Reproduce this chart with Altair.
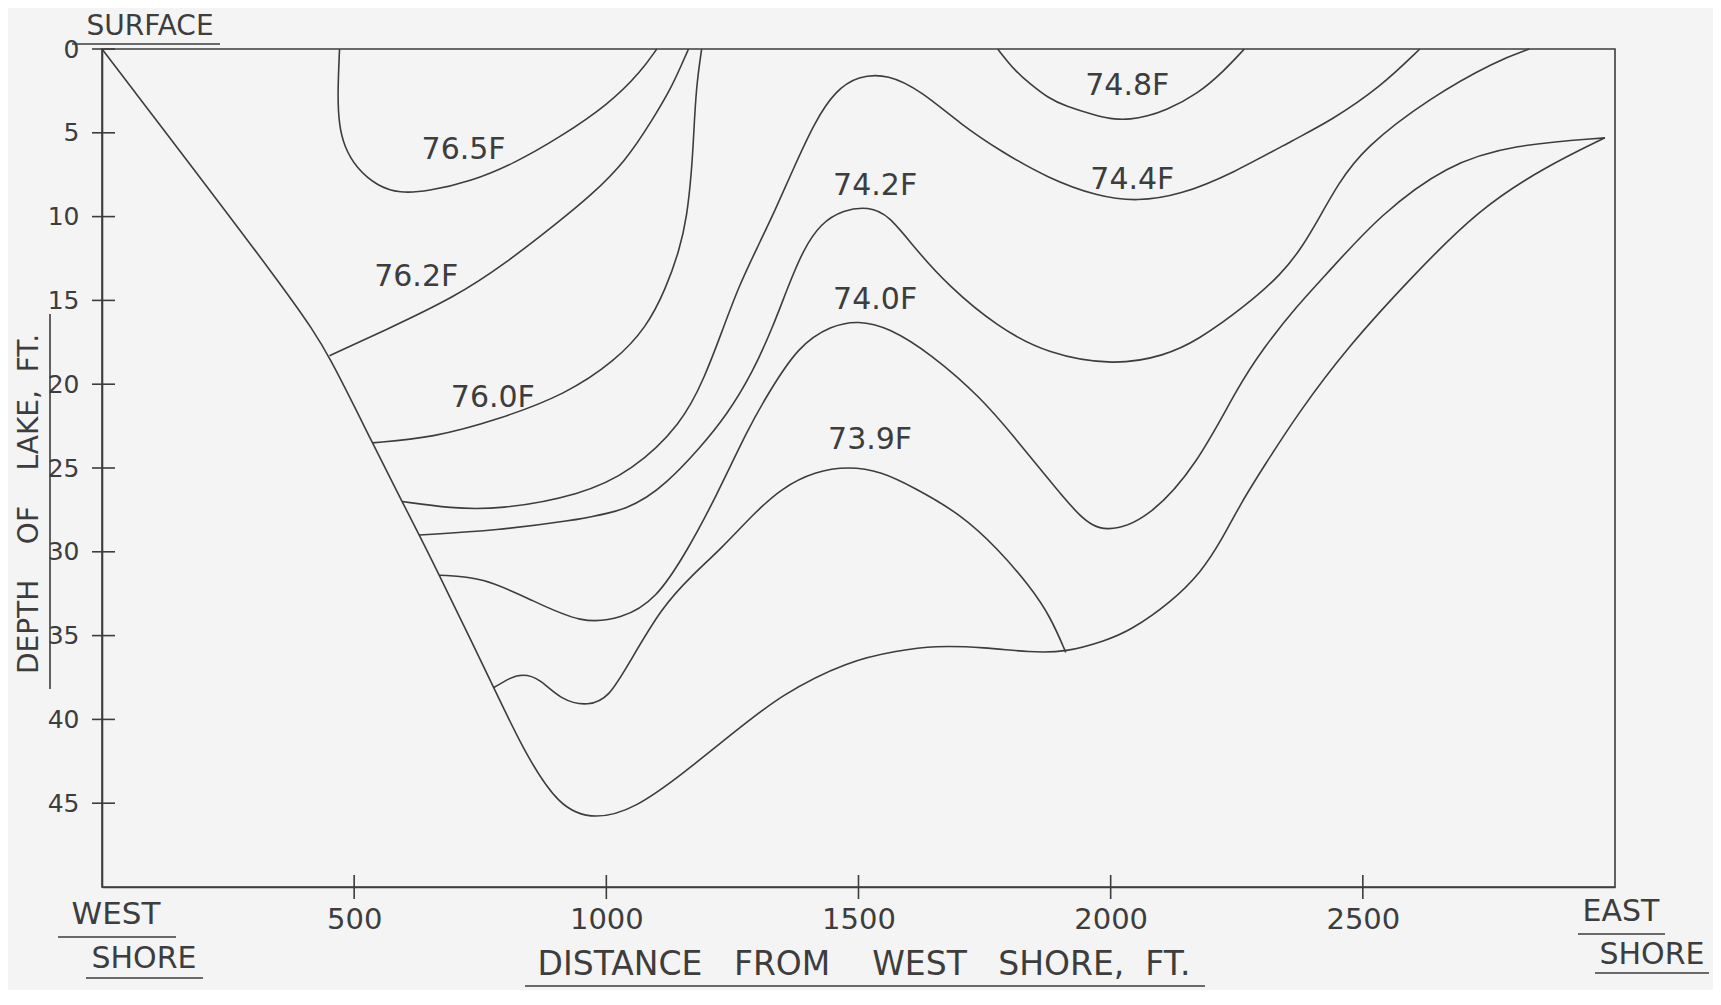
import altair as alt
import pandas as pd

INK = "#3d3d3d"
FONT = "DejaVu Sans"
NB = "\u00a0"

# ---- axis ticks ----
x_ticks = [500, 1000, 1500, 2000, 2500]
y_ticks = [0, 5, 10, 15, 20, 25, 30, 35, 40, 45]

# ---- lake bottom profile (distance ft, depth ft) ----
bottom_x = [0, 391, 451, 536, 595, 629, 669, 777, 833, 906, 979, 1058, 1149, 1248, 1347, 1480,
            1578, 1650, 1750, 1840, 1911, 1990, 2039, 2120, 2180, 2220, 2260, 2304, 2370, 2469,
            2600, 2732, 2864, 2980]
bottom_y = [0, 15.4, 18.3, 23.5, 27.0, 29.0, 31.4, 38.1, 41.7, 45.3, 46.0, 45.3, 43.3, 40.9, 38.5, 36.5,
            35.9, 35.6, 35.7, 36.0, 36.0, 35.3, 34.7, 33.0, 31.2, 29.3, 27.0, 24.9, 21.8, 17.8,
            13.5, 9.5, 7.0, 5.3]

# ---- isotherms ----
t765_x = [471, 467, 470, 480, 504, 547, 590, 645, 732, 819, 906, 1005, 1070, 1100]
t765_y = [0, 2.8, 4.5, 5.8, 7.1, 8.2, 8.6, 8.5, 7.9, 6.8, 5.3, 3.3, 1.3, 0]

t762_x = [451, 560, 700, 800, 906, 971, 1038, 1090, 1129, 1149, 1163]
t762_y = [18.3, 16.8, 14.8, 12.8, 10.3, 8.7, 6.7, 4.3, 2.3, 0.95, 0]

t760_x = [536, 655, 787, 920, 1018, 1080, 1118, 1145, 1160, 1169, 1173, 1178, 1189]
t760_y = [23.5, 23.2, 22.1, 20.6, 18.6, 16.6, 14.3, 12.0, 10.0, 7.3, 5.3, 2.3, 0]

t748_x = [1776, 1810, 1841, 1875, 1909, 1974, 2008, 2039, 2073, 2107, 2172, 2225, 2265]
t748_y = [0, 1.3, 2.1, 2.9, 3.4, 4.0, 4.2, 4.2, 4.0, 3.7, 2.7, 1.3, 0]

t744_x = [595, 690, 787, 951, 1050, 1149, 1195, 1230, 1262, 1300, 1335, 1370, 1414, 1454, 1499, 1559,
          1624, 1703, 1782, 1875, 1974, 2053, 2138, 2237, 2370, 2435, 2534, 2613]
t744_y = [27.0, 27.4, 27.5, 26.6, 25.2, 22.4, 19.6, 16.8, 14.2, 11.8, 9.6, 7.2, 4.3, 2.5, 1.6, 1.5,
          2.5, 4.5, 6.1, 7.7, 8.8, 9.1, 8.7, 7.5, 5.3, 4.3, 2.3, 0]

t742_x = [629, 787, 920, 1050, 1120, 1183, 1240, 1290, 1330, 1360, 1390, 1425, 1470, 1520, 1560, 1612,
          1677, 1776, 1875, 2008, 2107, 2172, 2269, 2340, 2380, 2415, 2450, 2502, 2633, 2765, 2830]
t742_y = [29.0, 28.7, 28.2, 27.5, 25.9, 23.9, 21.8, 19.3, 16.6, 14.2, 12.0, 10.4, 9.6, 9.4, 9.9, 11.9,
          14.1, 16.6, 18.2, 18.9, 18.3, 17.4, 15.3, 13.4, 11.8, 10.0, 8.1, 5.9, 2.9, 0.7, 0]

t740_x = [669, 754, 853, 951, 1030, 1098, 1163, 1216, 1282, 1320, 1381, 1446, 1499, 1559, 1644, 1743,
          1810, 1875, 1940, 1988, 2073, 2172, 2251, 2304, 2370, 2435, 2534, 2666, 2799, 2980]
t740_y = [31.4, 31.5, 32.9, 34.3, 34.0, 32.9, 29.8, 26.8, 22.6, 20.6, 17.7, 16.5, 16.2, 16.6, 18.2, 20.8,
          23.2, 25.6, 28.0, 28.9, 28.1, 24.8, 20.2, 17.8, 15.3, 13.2, 9.9, 6.9, 5.7, 5.3]

t739_x = [777, 810, 833, 866, 912, 965, 1005, 1044, 1110, 1170, 1228, 1290, 1347, 1414, 1480, 1545,
          1612, 1700, 1776, 1841, 1881, 1911]
t739_y = [38.1, 37.5, 37.3, 37.5, 38.9, 39.2, 38.7, 36.7, 33.3, 31.4, 29.8, 27.8, 26.2, 25.2, 24.9, 25.2,
          26.2, 27.7, 29.8, 32.1, 33.9, 36.0]

# ---- isotherm labels ----
label_text = ["76.5F", "76.2F", "76.0F", "74.2F", "74.0F", "73.9F", "74.8F", "74.4F"]
label_x = [717, 623, 775, 1533, 1533, 1523, 2033, 2043]
label_y = [6.0, 13.6, 20.8, 8.2, 15.0, 23.3, 2.2, 7.8]

curves = [
    ("bottom", bottom_x, bottom_y),
    ("76.5F", t765_x, t765_y),
    ("76.2F", t762_x, t762_y),
    ("76.0F", t760_x, t760_y),
    ("74.8F", t748_x, t748_y),
    ("74.4F", t744_x, t744_y),
    ("74.2F", t742_x, t742_y),
    ("74.0F", t740_x, t740_y),
    ("73.9F", t739_x, t739_y),
]
rows = []
for name, xs_, ys_ in curves:
    for i, (a, b) in enumerate(zip(xs_, ys_)):
        rows.append({"curve": name, "seq": i, "dist": a, "depth": b})
df = pd.DataFrame(rows)
lab_df = pd.DataFrame({"dist": label_x, "depth": label_y, "text": label_text})

W, H = 1513, 838
xs = alt.Scale(domain=[0, 3000], nice=False, zero=False)
ys = alt.Scale(domain=[0, 50], reverse=True, nice=False, zero=False)

x_axis = alt.Axis(values=x_ticks, format="d", ticks=False, grid=False, title=None,
                  labelPadding=18, labelFont=FONT, labelFontSize=29, labelColor=INK,
                  domainColor=INK, domainWidth=1.6)
y_axis = alt.Axis(values=y_ticks, format="d", ticks=False, grid=False, title=None,
                  labelPadding=23, labelFont=FONT, labelFontSize=25, labelColor=INK,
                  domainColor=INK, domainWidth=1.6)

X = alt.X("dist:Q", scale=xs, axis=x_axis)
Y = alt.Y("depth:Q", scale=ys, axis=y_axis)

lines = alt.Chart(df).mark_line(
    interpolate="basis", color=INK, strokeWidth=1.6
).encode(x=X, y=Y, detail="curve:N", order="seq:Q")

labels = alt.Chart(lab_df).mark_text(font=FONT, fontSize=30, color=INK).encode(
    x=X, y=Y, text="text:N")

xt = alt.Chart(pd.DataFrame({"dist": x_ticks})).mark_rule(color=INK, strokeWidth=1.6).encode(
    x=X, y=alt.value(H - 12), y2=alt.value(H + 12))
yt = alt.Chart(pd.DataFrame({"depth": y_ticks})).mark_rule(color=INK, strokeWidth=1.6).encode(
    y=Y, x=alt.value(-10), x2=alt.value(13))

dummy = pd.DataFrame({"k": [0]})


def txt(s, px, py, size=30, angle=0):
    return alt.Chart(dummy).mark_text(
        font=FONT, fontSize=size, color=INK, angle=angle, align="center", baseline="middle"
    ).encode(x=alt.value(px), y=alt.value(py), text=alt.value(s))


def hline(x1, x2, py):
    return alt.Chart(dummy).mark_rule(color=INK, strokeWidth=1.6).encode(
        x=alt.value(x1), x2=alt.value(x2), y=alt.value(py))


def vline(px, y1, y2):
    return alt.Chart(dummy).mark_rule(color=INK, strokeWidth=1.6).encode(
        x=alt.value(px), y=alt.value(y1), y2=alt.value(y2))


deco = [
    txt("SURFACE", 48, -22, size=28), hline(-30, 118, -5),
    txt("DEPTH" + NB * 4 + "OF" + NB * 4 + "LAKE," + NB * 2 + "FT.", -72, 455, size=28, angle=270),
    vline(-52, 265, 640),
    txt("WEST", 14, 866, 31), hline(-44, 74, 888),
    txt("SHORE", 42, 910), hline(-16, 101, 929),
    txt("EAST", 1519, 863), hline(1476, 1563, 885),
    txt("SHORE", 1550, 906), hline(1493, 1607, 924),
    txt("DISTANCE" + NB * 3 + "FROM" + NB * 4 + "WEST" + NB * 3 + "SHORE," + NB * 2 + "FT.", 762, 916, 33),
    hline(423, 1103, 937),
]

chart = alt.layer(lines, labels, xt, yt, *deco).properties(
    width=W, height=H,
    autosize=alt.AutoSizeParams(type="none"),
    padding={"left": 94, "top": 41, "right": 98, "bottom": 103},
    background="#f4f4f4",
).configure_view(stroke=INK, strokeWidth=1.6)

chart.save("out.html", embed_options={"renderer": "svg", "actions": False})
